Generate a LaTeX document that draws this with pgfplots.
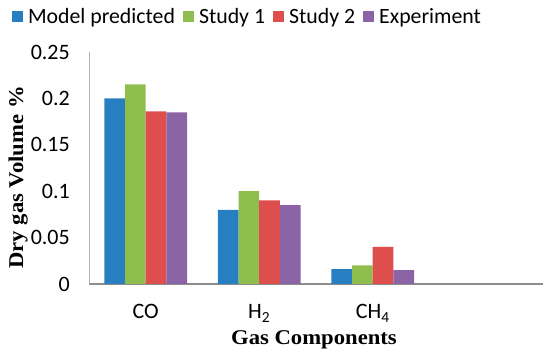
\documentclass[border=0pt]{standalone}
\usepackage{fontspec}
\setmainfont{Carlito}
\newfontfamily\labfont[FakeStretch=1.08]{Liberation Serif}
\usepackage{pgfplots}
\pgfplotsset{compat=1.18}
\definecolor{cblue}{RGB}{39,127,193}
\definecolor{cgreen}{RGB}{143,190,79}
\definecolor{cred}{RGB}{221,78,77}
\definecolor{cpurple}{RGB}{139,100,165}
\begin{document}
\begin{tikzpicture}
\useasboundingbox (0,0) rectangle (550pt,358pt);
\begin{axis}[
 at={(89pt,74pt)}, anchor=south west,
 width=454pt, height=232pt, scale only axis,
 ybar=0pt, bar width=20.7pt,
 xmin=-0.5, xmax=3.5, ymin=0, ymax=0.25,
 xtick={0,1,2}, xticklabels={CO, H\textsubscript{2}, CH\textsubscript{4}},
 ytick={0,0.05,0.1,0.15,0.2,0.25}, yticklabels={0,0.05,0.1,0.15,0.2,0.25},
 major tick length=0pt,
 axis x line*=bottom, axis y line*=left,
 x axis line style={color=black!45, line width=1.5pt, -},
 y axis line style={color=black!30, line width=0.8pt, -},
 tick label style={font=\fontsize{22}{26}\selectfont},
 yticklabel style={anchor=east, inner sep=0pt, xshift=-19pt},
 xticklabel style={anchor=base, inner sep=0pt, yshift=-35pt},
 xlabel={Gas Components},
 ylabel={Dry gas Volume \%},
 xlabel style={font=\labfont\bfseries\fontsize{21}{24}\selectfont, at={(rel axis cs:0.4956,-0.241)}, anchor=center},
 ylabel style={font=\labfont\bfseries\fontsize{21}{24}\selectfont, at={(rel axis cs:-0.156,0.459)}, anchor=center},
 legend columns=4,
 legend image code/.code={\fill[#1,draw=none] (0pt,-5.5pt) rectangle (11pt,5.5pt);},
 legend style={draw=none, fill=none, inner sep=0pt, font=\fontsize{21.8}{25}\selectfont,
   at={(rel axis cs:-0.170,1.151)}, anchor=west,
   nodes={inner sep=0pt},
   /tikz/every odd column/.append style={column sep=5pt},
   /tikz/every even column/.append style={column sep=8pt}},
]
\addplot[fill=cblue, draw=none] coordinates {(0,0.200) (1,0.080) (2,0.016)};
\addplot[fill=cgreen, draw=none] coordinates {(0,0.215) (1,0.100) (2,0.020)};
\addplot[fill=cred, draw=none] coordinates {(0,0.186) (1,0.090) (2,0.040)};
\addplot[fill=cpurple, draw=none] coordinates {(0,0.185) (1,0.085) (2,0.015)};
\legend{Model predicted, Study 1, Study 2, Experiment}
\end{axis}
\end{tikzpicture}
\end{document}
